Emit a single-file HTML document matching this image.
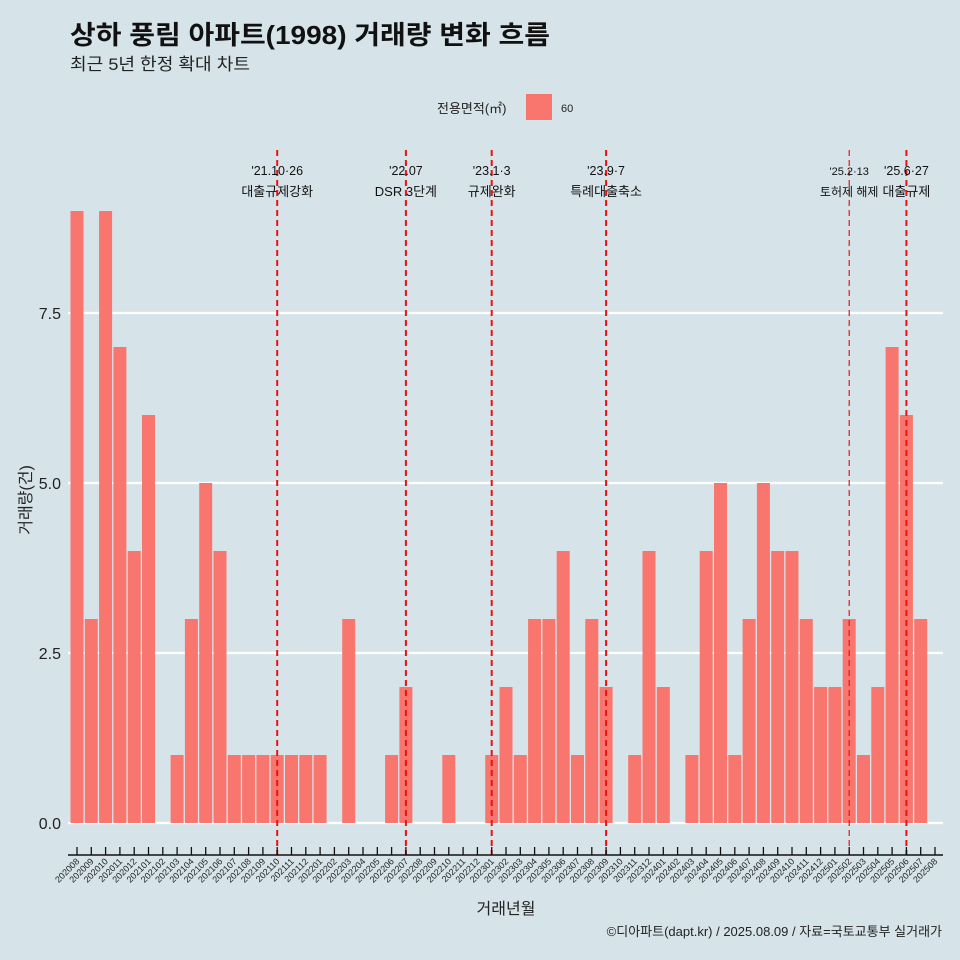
<!DOCTYPE html>
<html><head><meta charset="utf-8">
<style>
html,body{margin:0;padding:0;background:#d6e4ea;}
svg{display:block;font-family:"Liberation Sans","Noto Sans CJK KR",sans-serif;}
</style></head>
<body>
<svg id="chart" width="960" height="960" viewBox="0 0 960 960">
<rect width="960" height="960" fill="#d6e4ea"/>
<text x="70" y="44" font-size="26" font-weight="bold" fill="#111" textLength="480" lengthAdjust="spacingAndGlyphs">상하 풍림 아파트(1998) 거래량 변화 흐름</text>
<text x="70" y="70" font-size="17" fill="#222" textLength="180" lengthAdjust="spacingAndGlyphs">최근 5년 한정 확대 차트</text>
<g>
<text x="437" y="113" font-size="13" fill="#222">전용면적(㎡)</text>
<rect x="526" y="94" width="26" height="26" fill="#f8766d"/>
<text x="561" y="112" font-size="11" fill="#222">60</text>
</g>
<g id="grid"></g>
<g id="bars"></g>
<g id="events"></g>
<g id="axes"></g>
<text x="31" y="500" font-size="16" fill="#222" transform="rotate(-90 31 500)" text-anchor="middle">거래량(건)</text>
<text x="506" y="914" font-size="16" fill="#222" text-anchor="middle">거래년월</text>
<text x="942" y="936" font-size="13" fill="#222" text-anchor="end">©디아파트(dapt.kr) / 2025.08.09 / 자료=국토교통부 실거래가</text>
</svg>
<script>
const months = ["202008","202009","202010","202011","202012","202101","202102","202103","202104","202105","202106","202107","202108","202109","202110","202111","202112","202201","202202","202203","202204","202205","202206","202207","202208","202209","202210","202211","202212","202301","202302","202303","202304","202305","202306","202307","202308","202309","202310","202311","202312","202401","202402","202403","202404","202405","202406","202407","202408","202409","202410","202411","202412","202501","202502","202503","202504","202505","202506","202507","202508"];
const counts = [9,3,9,7,4,6,0,1,3,5,4,1,1,1,1,1,1,1,0,3,0,0,1,2,0,0,1,0,0,1,2,1,3,3,4,1,3,2,0,1,4,2,0,1,4,5,1,3,5,4,4,3,2,2,3,1,2,7,6,3,0];
const yTicks = [0,2.5,5,7.5];
const yTickLabels = ["0.0","2.5","5.0","7.5"];
const eventMonths = ["202110","202207","202301","202309","202502","202506"];
const eventDates = ["'21.10·26","'22.07","'23.1·3","'23.9·7","'25.2·13","'25.6·27"];
const eventNames = ["대출규제강화","DSR 3단계","규제완화","특례대출축소","토허제 해제","대출규제"];

const NS="http://www.w3.org/2000/svg";
const x0=77, step=(935-77)/60, bw=13;
const xPos=i=>x0+i*step;
const yPos=v=>823-v*68;
function mk(tag,attrs,parent){const e=document.createElementNS(NS,tag);for(const k in attrs)e.setAttribute(k,attrs[k]);parent.appendChild(e);return e;}
const grid=document.getElementById('grid'),bars=document.getElementById('bars'),ev=document.getElementById('events'),ax=document.getElementById('axes');
yTicks.forEach((t,i)=>{
  const l=mk('line',{x1:68,x2:943,y1:yPos(t),y2:yPos(t),stroke:'#fff','stroke-width':2.2},grid);
  
  
  const tx=mk('text',{x:61,y:yPos(t)+6,'font-size':16,fill:'#222','text-anchor':'end'},grid);
  tx.textContent=yTickLabels[i];
  
  
});
counts.forEach((c,i)=>{
  if(c<=0)return;
  const r=mk('rect',{x:xPos(i)-bw/2,y:yPos(c),width:bw,height:yPos(0)-yPos(c),fill:'#f8766d'},bars);
  
  
});
eventMonths.forEach((m,k)=>{
  const i=months.indexOf(m);const x=xPos(i);
  const thin=(m==="202502");
  const l=mk('line',{x1:x,x2:x,y1:150,y2:855,stroke:'#ee1111','stroke-width':thin?1.2:2,'stroke-dasharray':'6,4'},ev);
  
  
  const fs=thin?11:12.5;
  const t1=mk('text',{x:x,y:175,'font-size':fs,fill:'#111','text-anchor':'middle'},ev);
  t1.textContent=eventDates[k];
  
  
  const t2=mk('text',{x:x,y:196,'font-size':thin?12:13,fill:'#111','text-anchor':'middle'},ev);
  t2.textContent=eventNames[k];
  
  
});
const axl=mk('line',{x1:68,x2:943,y1:855,y2:855,stroke:'#111','stroke-width':1.5},ax);


months.forEach((m,i)=>{
  const x=xPos(i);
  const tk=mk('line',{x1:x,x2:x,y1:847,y2:855,stroke:'#111','stroke-width':1.3},ax);
  
  
  const t=mk('text',{x:x+3,y:862,'font-size':9,fill:'#222','text-anchor':'end',transform:`rotate(-45 ${x+3} 862)`},ax);
  t.textContent=m;
  
  
});
</script>
</body></html>
